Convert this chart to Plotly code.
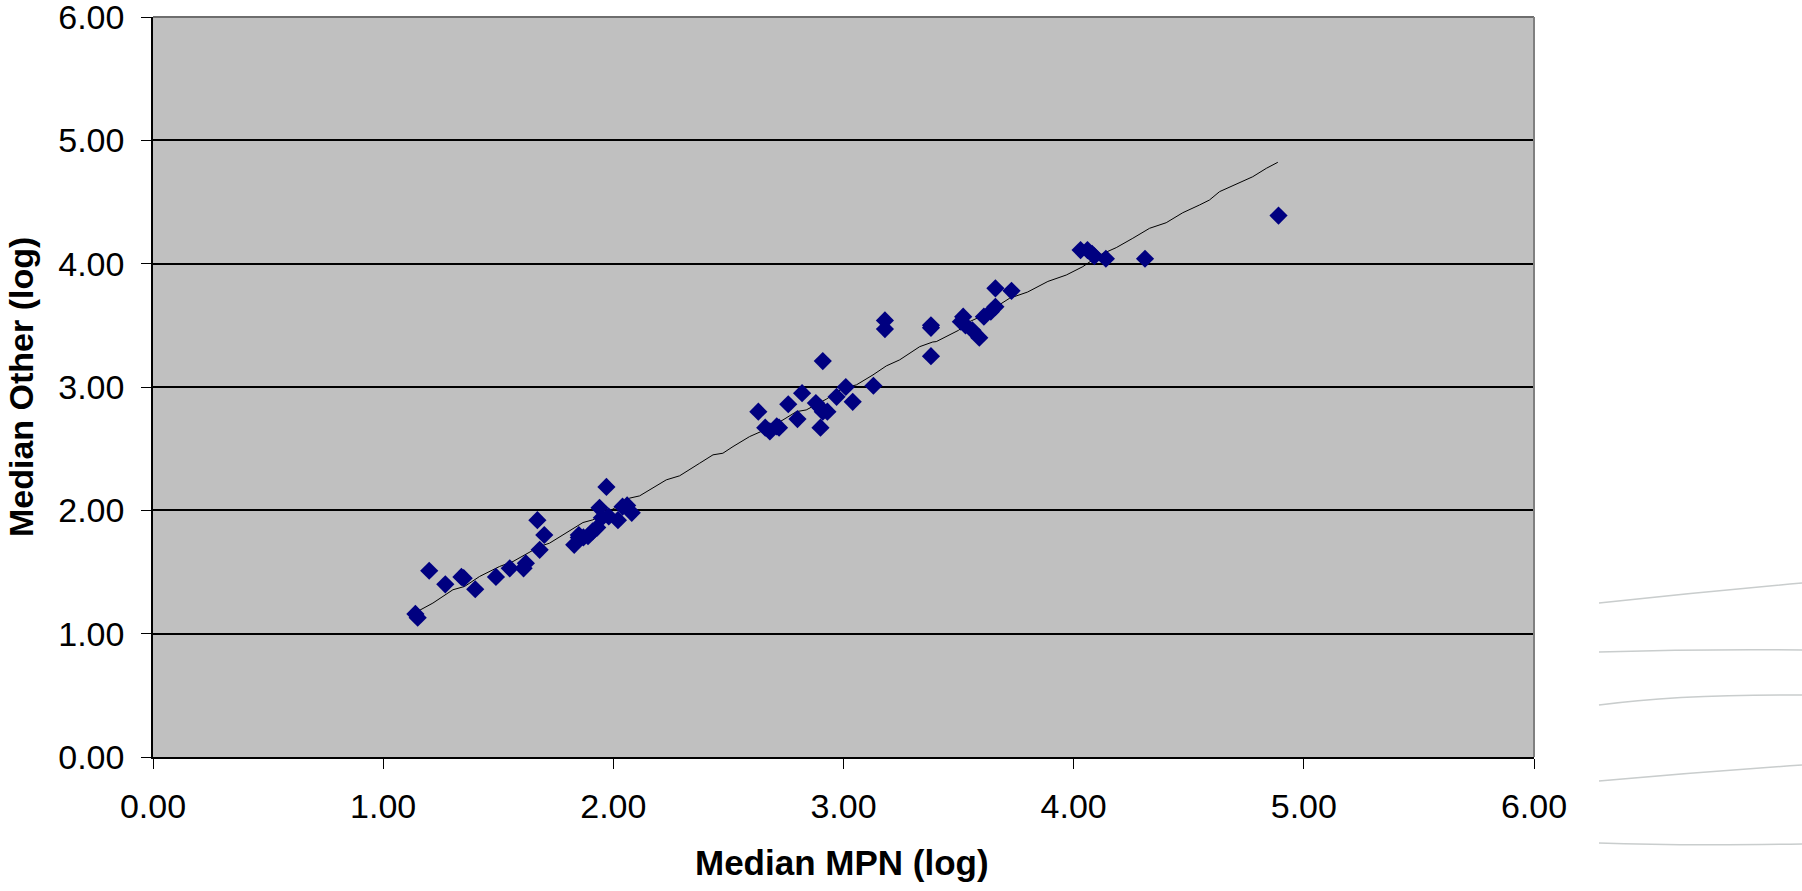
import plotly.graph_objects as go

# Median counts per site, log10 scale: MPN method vs. the other method
mpn_log = [
    1.14, 1.15, 1.20, 1.27, 1.34, 1.35, 1.40, 1.49, 1.55, 1.61, 1.62, 1.67,
    1.68, 1.70, 1.83, 1.85, 1.85, 1.87, 1.89, 1.91, 1.93, 1.94, 1.97, 1.95,
    1.98, 2.02, 2.04, 2.06, 2.08,
    2.63, 2.66, 2.68, 2.71, 2.72, 2.76, 2.80, 2.82, 2.88, 2.90, 2.91, 2.93,
    2.90, 2.91, 2.97, 3.01, 3.04, 3.13,
    3.18, 3.18, 3.38, 3.38, 3.38, 3.52, 3.51, 3.53, 3.56, 3.59, 3.61, 3.64,
    3.66, 3.66, 3.73,
    4.03, 4.06, 4.08, 4.09, 4.14, 4.31, 4.89,
]
other_log = [
    1.16, 1.13, 1.51, 1.40, 1.46, 1.45, 1.36, 1.46, 1.53, 1.53, 1.57, 1.92,
    1.68, 1.80, 1.72, 1.78, 1.80, 1.78, 1.79, 1.83, 1.86, 2.02, 2.19, 1.94,
    1.95, 1.92, 2.03, 2.04, 1.98,
    2.80, 2.67, 2.64, 2.68, 2.67, 2.86, 2.74, 2.95, 2.87, 2.83, 2.80, 2.80,
    2.67, 3.21, 2.92, 3.00, 2.88, 3.01,
    3.54, 3.47, 3.50, 3.48, 3.25, 3.57, 3.53, 3.50, 3.46, 3.40, 3.57, 3.61,
    3.65, 3.80, 3.78,
    4.11, 4.11, 4.08, 4.06, 4.04, 4.04, 4.39,
]

# Smoothed trend through the points
trend_x = [
    1.144, 1.216, 1.303, 1.354, 1.419, 1.506, 1.564, 1.680, 1.723, 1.796,
    1.868, 1.911, 1.998, 2.071, 2.114, 2.230, 2.288, 2.375, 2.433, 2.476,
    2.520, 2.592, 2.665, 2.737, 2.795, 2.838, 2.925, 2.997, 3.056, 3.128,
    3.186, 3.244, 3.331, 3.388, 3.403, 3.500, 3.548, 3.600, 3.722, 3.800,
    3.888, 3.968, 4.040, 4.113, 4.185, 4.257, 4.330, 4.402, 4.474, 4.547,
    4.590, 4.634, 4.706, 4.778, 4.837, 4.887,
]
trend_y = [
    1.175, 1.248, 1.356, 1.383, 1.464, 1.545, 1.585, 1.707, 1.734, 1.815,
    1.901, 1.923, 2.010, 2.099, 2.117, 2.247, 2.280, 2.382, 2.450, 2.463,
    2.517, 2.598, 2.658, 2.733, 2.800, 2.814, 2.901, 2.990, 3.017, 3.098,
    3.171, 3.220, 3.327, 3.365, 3.368, 3.460, 3.530, 3.575, 3.720, 3.770,
    3.856, 3.908, 3.976, 4.070, 4.130, 4.206, 4.287, 4.332, 4.413, 4.476,
    4.516, 4.584, 4.646, 4.705, 4.773, 4.822,
]

tick_vals = [0, 1, 2, 3, 4, 5, 6]
tick_text = ["0.00", "1.00", "2.00", "3.00", "4.00", "5.00", "6.00"]

W, H = 1802, 891
L, R, T, B = 153, 268, 17, 134
PW, PH = W - L - R, H - T - B

FONT = "Liberation Sans, Arial, sans-serif"


def px_to_paper(xp, yp):
    return (xp - L) / PW, (H - B - yp) / PH


fig = go.Figure()

fig.add_trace(go.Scatter(
    x=trend_x, y=trend_y, mode="lines",
    line=dict(color="#000000", width=1),
    hoverinfo="skip", showlegend=False,
))

fig.add_trace(go.Scatter(
    x=mpn_log, y=other_log, mode="markers",
    marker=dict(symbol="diamond", size=14, color="#000080",
                line=dict(width=0)),
    showlegend=False,
))

axis_common = dict(
    range=[0, 6], tickvals=tick_vals, ticktext=tick_text,
    ticks="outside", ticklen=10, tickwidth=1, tickcolor="#000000",
    showline=True, linecolor="#000000", linewidth=1.5,
    zeroline=False, ticklabeloverflow="allow", automargin=False,
    tickfont=dict(family=FONT, size=34, color="#000000"),
)

fig.update_xaxes(**axis_common, showgrid=False, ticklabelstandoff=8)
fig.update_yaxes(**axis_common, showgrid=True, gridcolor="#000000",
                 gridwidth=1.5, ticklabelstandoff=10)

shapes = [
    # upper and right frame of the plotting area
    dict(type="line", xref="paper", yref="paper", x0=0, x1=1, y0=1, y1=1,
         line=dict(color="#6e6e6e", width=2), layer="above"),
    dict(type="line", xref="paper", yref="paper", x0=1, x1=1, y0=0, y1=1,
         line=dict(color="#808080", width=2), layer="above"),
]

# faint curved strokes in the right margin
strokes = [
    [(1599, 603), (1700, 592), (1802, 583)],
    [(1599, 652), (1700, 649), (1802, 650)],
    [(1599, 705), (1680, 694), (1802, 695)],
    [(1599, 781), (1700, 772), (1802, 765)],
    [(1599, 843), (1680, 846), (1802, 844)],
]
for s in strokes:
    (ax, ay), (cx, cy), (bx, by) = [px_to_paper(*p) for p in s]
    shapes.append(dict(
        type="path", xref="paper", yref="paper",
        path=f"M {ax},{ay} Q {cx},{cy} {bx},{by}",
        line=dict(color="#c9cdcd", width=1.5),
    ))

ytx, yty = px_to_paper(21, 387)
xtx, xty = px_to_paper(842, 862)

fig.update_layout(
    width=W, height=H,
    margin=dict(l=L, r=R, t=T, b=B, pad=0, autoexpand=False),
    paper_bgcolor="#ffffff",
    plot_bgcolor="#c0c0c0",
    shapes=shapes,
    annotations=[
        dict(text="<b>Median Other (log)</b>", xref="paper", yref="paper",
             x=ytx, y=yty, textangle=-90, showarrow=False,
             xanchor="center", yanchor="middle",
             font=dict(family=FONT, size=34, color="#000000")),
        dict(text="<b>Median MPN (log)</b>", xref="paper", yref="paper",
             x=xtx, y=xty, showarrow=False,
             xanchor="center", yanchor="middle",
             font=dict(family=FONT, size=35, color="#000000")),
    ],
)

fig.write_html("out.html")
